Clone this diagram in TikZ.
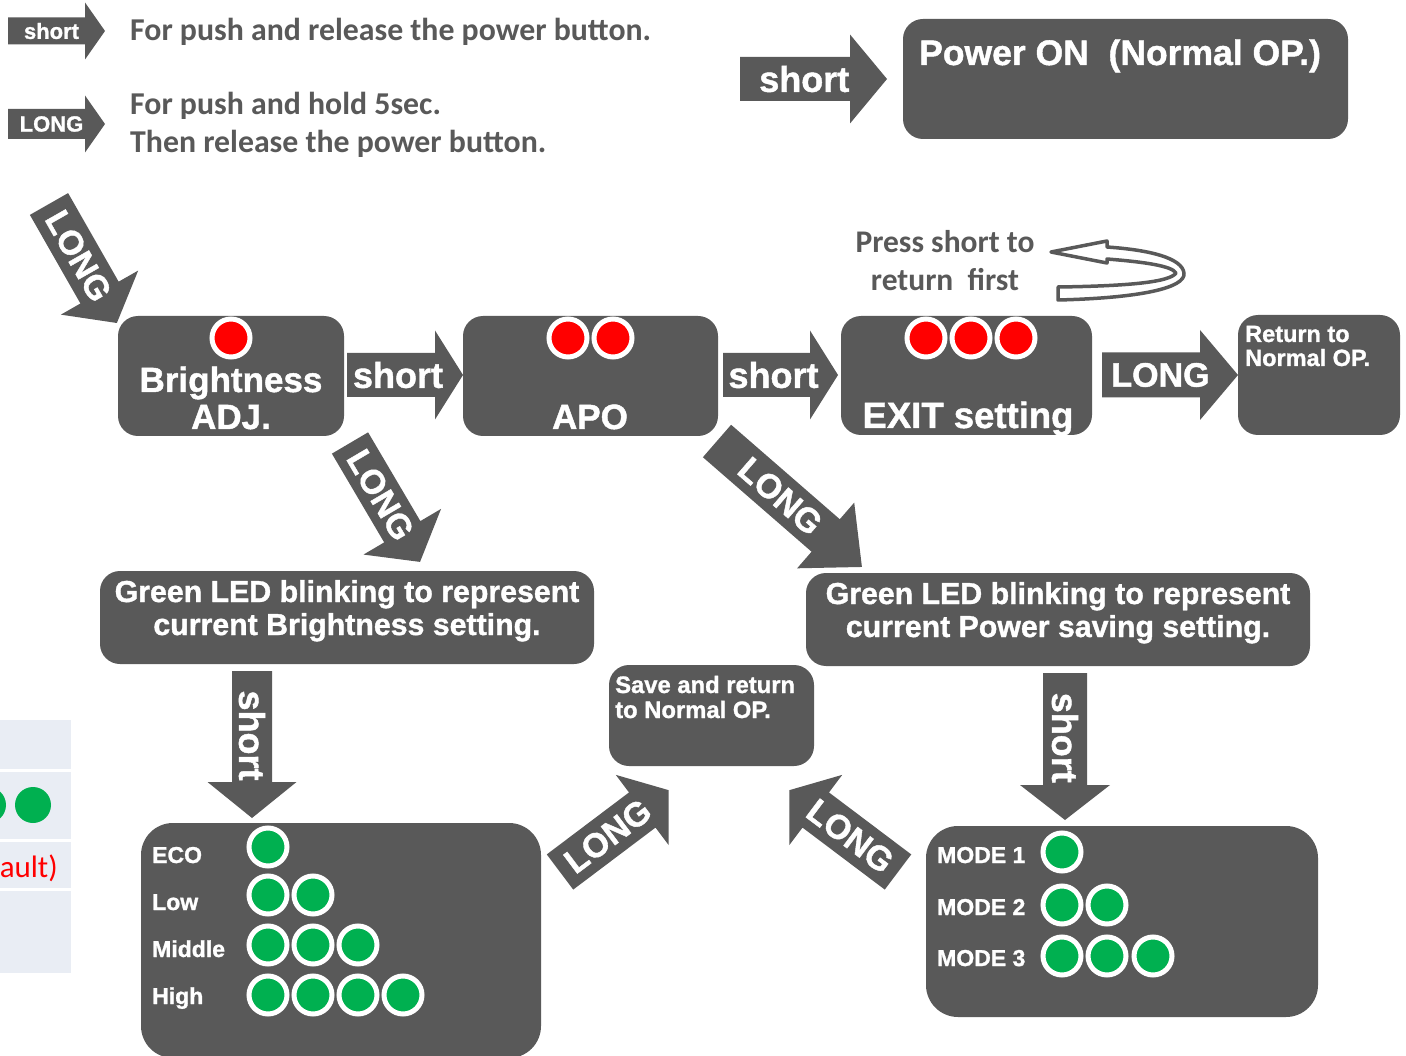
\documentclass[tikz,border=0pt]{standalone}
\usepackage{fontspec}
\setmainfont{Liberation Sans}[BoldFeatures={FakeBold=1.2}]
\newfontfamily\calfont{Carlito}
\definecolor{boxgray}{HTML}{595959}
\definecolor{ledgreen}{HTML}{00B050}
\definecolor{cellblue}{HTML}{E9EDF4}
\newcommand{\FS}[1]{\fontsize{#1}{#1}\selectfont}
% #1 name, #2 tail centre, #3 angle, #4 length, #5 shaft width, #6 head width, #7 head length, #8 extra text rotation, #9 text
\newcommand{\BlkArrow}[9]{%
  \begin{scope}[shift={(#2)},rotate=#3]
    \fill[boxgray] (0,{-#5/2}) -- ({#4-#7},{-#5/2}) -- ({#4-#7},{-#6/2}) -- (#4,0)
      -- ({#4-#7},{#6/2}) -- ({#4-#7},{#5/2}) -- (0,{#5/2}) -- cycle;
    \node[arrowlbl,transform shape,rotate=#8] (#1) at ({(#4-#7/2)/2},0) {#9};
  \end{scope}}
\tikzset{
  box/.style={fill=boxgray, rounded corners=20pt, inner sep=0pt, draw=none},
  bigbox/.style={box, rounded corners=32pt},
  arrowlbl/.style={text=white, font=\bfseries, inner sep=0pt},
  wtext/.style={text=white, font=\bfseries, inner sep=0pt},
  gtext/.style={text=boxgray, font=\calfont\bfseries, inner sep=0pt},
  redled/.style={circle, fill=red, draw=white, line width=5pt, minimum size=38pt, inner sep=0pt},
  greenled/.style={circle, fill=ledgreen, draw=white, line width=5pt, minimum size=38pt, inner sep=0pt},
  dot/.style={circle, fill=ledgreen, minimum size=36pt, inner sep=0pt},
}
\begin{document}
\begin{tikzpicture}[x=1pt,y=-1pt]
\useasboundingbox (0,0) rectangle (1406,1056);
\fill[white] (0,0) rectangle (1406,1056);

% ---- cut-off table at the left
\fill[cellblue] (0,720) rectangle (71,769);
\fill[cellblue] (0,772) rectangle (71,839);
\fill[cellblue] (0,842) rectangle (71,888);
\fill[cellblue] (0,891) rectangle (71,973);
\node[dot] (td1) at (-12,805) {};
\node[dot] (td2) at (33,805) {};
\node[anchor=base east, inner sep=0pt, text=red, font=\calfont\FS{31}] (ault) at (58,877) {ault)};

% ---- legend
\BlkArrow{sleg}{8,31}{0}{97}{27}{57}{20}{0}{\FS{22}short}
\BlkArrow{lleg}{8,124}{0}{97}{30}{57}{20}{0}{\FS{22}LONG}
\node[gtext, anchor=base west, font=\calfont\bfseries\FS{31.8}] (leg1) at (130,41) {For push and release the power button.};
\node[gtext, anchor=base west, font=\calfont\bfseries\FS{31.8}] (leg2) at (130,115) {For push and hold 5sec.};
\node[gtext, anchor=base west, font=\calfont\bfseries\FS{31.8}] (leg3) at (130,153) {Then release the power button.};

% ---- power on
\BlkArrow{stop}{740,79}{0}{147}{44}{89}{37}{0}{\FS{36}short}
\node[box, minimum width=445pt, minimum height=120pt] (power) at (1125.5,79) {};
\node[wtext, anchor=base west, font=\bfseries\FS{35.5}] (powert) at (919,65) {Power ON\ \ (Normal OP.)};

% ---- main row boxes
\node[box, minimum width=226pt, minimum height=120pt] (bright) at (231,376) {};
\node[box, minimum width=255pt, minimum height=120pt] (apo) at (590.5,376) {};
\node[box, minimum width=251pt, minimum height=119pt] (exit) at (966.5,375.5) {};
\node[box, minimum width=162pt, minimum height=120pt] (ret) at (1319,375) {};

\node[redled] (bl1) at (231,338) {};
\node[redled] (al1) at (568,338) {};
\node[redled] (al2) at (613,338) {};
\node[redled] (el1) at (926,338) {};
\node[redled] (el2) at (971,338) {};
\node[redled] (el3) at (1016,338) {};

\node[wtext, anchor=base, font=\bfseries\FS{35}] (brt1) at (231,392) {Brightness};
\node[wtext, anchor=base, font=\bfseries\FS{35}] (brt2) at (231,429) {ADJ.};
\node[wtext, anchor=base, font=\bfseries\FS{35}] (apot) at (590,429) {APO};
\node[wtext, anchor=base, font=\bfseries\FS{36.5}] (exitt) at (968,428) {EXIT setting};
\node[wtext, anchor=base west, font=\bfseries\FS{23.5}] (rett1) at (1245,342) {Return to};
\node[wtext, anchor=base west, font=\bfseries\FS{23.5}] (rett2) at (1245,366) {Normal OP.};

\BlkArrow{s1}{347,375}{0}{116}{44}{89}{28}{0}{\FS{36}short}
\BlkArrow{s2}{723,375}{0}{115}{44}{89}{28}{0}{\FS{36}short}
\BlkArrow{lret}{1102,375}{0}{136}{45}{90}{38}{0}{\FS{34}LONG}
\BlkArrow{ltl}{49,204}{-60.3}{137}{44}{89}{35}{0}{\FS{34}LONG}

% ---- press short to return first
\node[gtext, anchor=base, font=\calfont\bfseries\FS{31.5}] (press1) at (945,253) {Press short to};
\node[gtext, anchor=base, font=\calfont\bfseries\FS{31.5}] (press2) at (945,291) {return\ \ first};
\draw[boxgray, line width=3.5pt, fill=white, line join=round]
  (1058,300) .. controls (1140,298) and (1186,288) .. (1184,273)
  .. controls (1182,258) and (1150,250) .. (1107,247)
  -- (1107,241) -- (1051,252) -- (1107,263) -- (1107,259)
  .. controls (1145,262) and (1172,266) .. (1176,273)
  .. controls (1170,282) and (1130,286) .. (1058,287) -- cycle;

% ---- second row
\BlkArrow{lb}{350,443}{-59.5}{138}{42}{90}{35}{0}{\FS{34}LONG}
\BlkArrow{lapo}{717,441}{-41}{192}{43}{87}{48}{0}{\FS{34}LONG}
\node[box, minimum width=494pt, minimum height=93pt] (green1) at (347,617.5) {};
\node[box, minimum width=504pt, minimum height=93pt] (green2) at (1058,619.5) {};
\node[wtext, anchor=base, font=\bfseries\FS{30.3}] (g1a) at (347,602) {Green LED blinking to represent};
\node[wtext, anchor=base, font=\bfseries\FS{30.3}] (g1b) at (347,635) {current Brightness setting.};
\node[wtext, anchor=base, font=\bfseries\FS{30.3}] (g2a) at (1058,604) {Green LED blinking to represent};
\node[wtext, anchor=base, font=\bfseries\FS{30.3}] (g2b) at (1058,637) {current Power saving setting.};

\node[box, minimum width=205pt, minimum height=101pt] (save) at (711.5,715.5) {};
\node[wtext, anchor=base west, font=\bfseries\FS{23.8}] (save1) at (615,693) {Save and return};
\node[wtext, anchor=base west, font=\bfseries\FS{23.8}] (save2) at (615,718) {to Normal OP.};

\BlkArrow{sdl}{252,671}{-90}{147}{40}{89}{36}{0}{\FS{36}short}
\BlkArrow{sdr}{1065,673}{-90}{147}{44}{90}{35}{0}{\FS{36}short}
\BlkArrow{lur}{560,872}{37}{136}{44}{88}{33}{0}{\FS{34}LONG}
\BlkArrow{lul}{898,872}{143}{136}{44}{88}{33}{180}{\FS{34}LONG}

% ---- bottom left box (brightness levels)
\node[bigbox, minimum width=400pt, minimum height=235pt] (blev) at (341,940.5) {};
\node[wtext, anchor=base west, font=\bfseries\FS{23}] (eco) at (152,863) {ECO};
\node[wtext, anchor=base west, font=\bfseries\FS{23}] (low) at (152,910) {Low};
\node[wtext, anchor=base west, font=\bfseries\FS{23}] (mid) at (152,957) {Middle};
\node[wtext, anchor=base west, font=\bfseries\FS{23}] (high) at (152,1004) {High};
\node[greenled] (e1) at (268,847) {};
\node[greenled] (lo1) at (268,895) {};
\node[greenled] (lo2) at (313,895) {};
\node[greenled] (m1) at (268,945) {};
\node[greenled] (m2) at (313,945) {};
\node[greenled] (m3) at (358,945) {};
\node[greenled] (h1) at (268,995) {};
\node[greenled] (h2) at (313,995) {};
\node[greenled] (h3) at (358,995) {};
\node[greenled] (h4) at (403,995) {};

% ---- bottom right box (power saving modes)
\node[bigbox, minimum width=392pt, minimum height=191pt] (mlev) at (1122,921.5) {};
\node[wtext, anchor=base west, font=\bfseries\FS{23}] (mo1) at (937,863) {MODE 1};
\node[wtext, anchor=base west, font=\bfseries\FS{23}] (mo2) at (937,915) {MODE 2};
\node[wtext, anchor=base west, font=\bfseries\FS{23}] (mo3) at (937,966) {MODE 3};
\node[greenled] (p1) at (1062,852) {};
\node[greenled] (p21) at (1062,905) {};
\node[greenled] (p22) at (1107,905) {};
\node[greenled] (p31) at (1062,956) {};
\node[greenled] (p32) at (1107,956) {};
\node[greenled] (p33) at (1153,956) {};
\end{tikzpicture}
\end{document}
